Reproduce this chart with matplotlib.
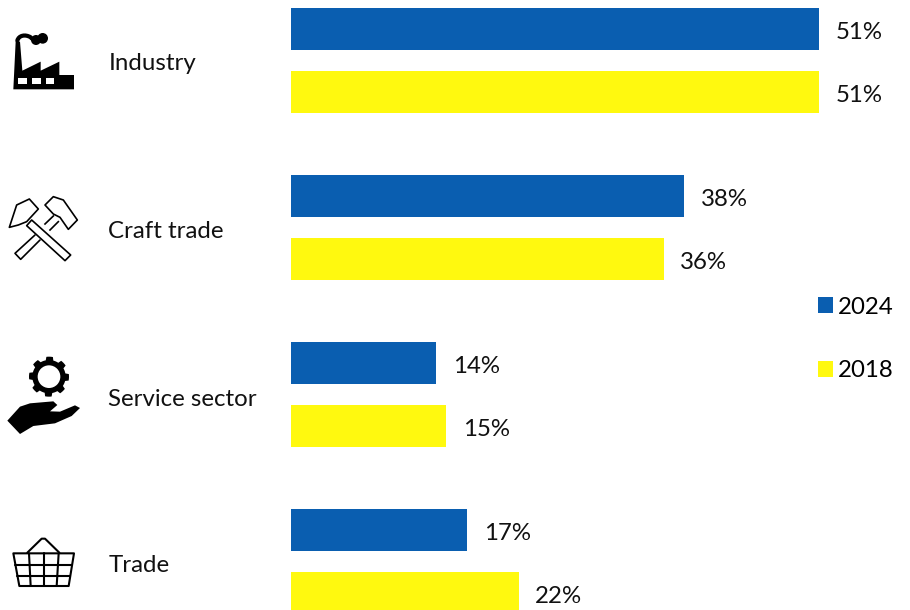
import matplotlib
matplotlib.use("Agg")
import matplotlib.pyplot as plt
import numpy as np
from matplotlib.patches import Circle, PathPatch, Polygon
from matplotlib.path import Path

plt.rcParams['font.family'] = ['Lato', 'DejaVu Sans']

categories = ['Industry', 'Craft trade', 'Service sector', 'Trade']
values_2024 = [51, 38, 14, 17]
values_2018 = [51, 36, 15, 22]
BLUE = '#0A5EB0'
YELLOW = '#FFF90F'
FS = 17.3

W, H = 910, 610
fig = plt.figure(figsize=(W / 100, H / 100), dpi=100)

# bars: 10.35 px per percent, 167 px between groups
ax = fig.add_axes([291 / W, 0, (W - 291) / W, 1])
ax.set_xlim(0, (W - 291) / 10.35)
ax.set_ylim((610 - 60.8) / 167, -60.8 / 167)
ax.axis('off')

y = np.arange(len(categories))
off = 31.5 / 167
bar_h = 42 / 167
b1 = ax.barh(y - off, values_2024, bar_h, color=BLUE, label='2024')
b2 = ax.barh(y + off, values_2018, bar_h, color=YELLOW, label='2018')
for rects, vals in ((b1, values_2024), (b2, values_2018)):
    for r, v in zip(rects, vals):
        ax.annotate(f'{v}%', (v, r.get_y() + r.get_height() / 2), xytext=(12, -2),
                    textcoords='offset points', va='center', ha='left', fontsize=FS, color='#111111')

fig.legend(handles=[b1, b2], loc='upper left', bbox_to_anchor=(796 / W, 1 - 275 / H), frameon=False,
           fontsize=FS, handlelength=0.66, handleheight=0.66, handletextpad=0.2, labelspacing=1.78)

# overlay in pixels for the labels and icons
ov = fig.add_axes([0, 0, 1, 1], facecolor='none')
ov.set_xlim(0, W)
ov.set_ylim(H, 0)
ov.axis('off')

label_y = [64, 231, 399, 565]
for name, ly in zip(categories, label_y):
    ov.text(108.5, ly, name, va='center', ha='left', fontsize=FS, color='#111111')


def pts(coords, oy):
    return [(cx / 3, oy + cy / 3) for cx, cy in coords]


def fill(coords, oy, color='black', z=3):
    ov.add_patch(Polygon(pts(coords, oy), closed=True, fc=color, ec='none', zorder=z))


def outline(coords, oy, closed=True, lw=1.2):
    ov.add_patch(Polygon(pts(coords, oy), closed=closed, fc='none', ec='black', lw=lw,
                         joinstyle='round', capstyle='round', zorder=3))


# factory
fill([(40, 208), (47, 65), (60, 65), (67, 152), (122, 125), (122, 152), (178, 125), (178, 165),
      (222, 165), (222, 208)], 20)
for wx in (55, 97, 138):
    fill([(wx, 175), (wx + 25, 175), (wx + 25, 193), (wx, 193)], 20, 'white', 4)
smoke = Path(pts([(52, 62), (56, 46), (76, 42), (92, 52), (104, 66), (122, 64), (134, 52)], 20),
             [Path.MOVETO, Path.CURVE4, Path.CURVE4, Path.CURVE4, Path.CURVE4, Path.CURVE4, Path.CURVE4])
ov.add_patch(PathPatch(smoke, fc='none', ec='black', lw=3.0, capstyle='round', zorder=3))
ov.add_patch(Circle((128 / 3, 20 + 55 / 3), 16 / 3, fc='black', ec='none', zorder=3))
ov.add_patch(Circle((108 / 3, 20 + 60 / 3), 15 / 3, fc='black', ec='none', zorder=3))

# crossed hammers
outline([(95, 600), (212, 705), (195, 722), (80, 617)], 20)
outline([(28, 622), (50, 555), (88, 537), (115, 567), (80, 605), (55, 615)], 20)
outline([(135, 555), (160, 530), (190, 540), (232, 600), (205, 628), (180, 592), (160, 582)], 20)
outline([(105, 645), (45, 700), (62, 718), (120, 660)], 20, closed=False)
ov.plot(*zip(*pts([(160, 588), (135, 612)], 20)), color='black', lw=1.2)
ov.plot(*zip(*pts([(175, 605), (150, 630)], 20)), color='black', lw=1.2)

# gear over hand
ang = np.linspace(0, 2 * np.pi, 97)[:-1]
rad = 60 - 10 * (np.cos(8 * ang) < 0)
fill(np.column_stack((147 + rad * np.cos(ang), 110 + rad * np.sin(ang))), 340)
ov.add_patch(Circle((147 / 3, 340 + 110 / 3), 34 / 3, fc='white', ec='none', zorder=4))
fill([(22, 242), (60, 200), (90, 190), (160, 184), (172, 195), (150, 214), (180, 215), (225, 196),
      (240, 204), (215, 228), (165, 250), (100, 258), (60, 282)], 340)

# basket
outline([(40, 640), (222, 640), (206, 738), (58, 738)], 340, lw=1.5)
outline([(82, 638), (125, 596), (135, 596), (178, 638)], 340, closed=False, lw=1.5)
outline([(46, 675), (216, 675)], 340, closed=False, lw=1.5)
outline([(52, 707), (211, 707)], 340, closed=False, lw=1.5)
for top, bot in ((87, 92), (132, 132), (176, 170)):
    outline([(top, 640), (bot, 738)], 340, closed=False, lw=1.5)

fig.savefig('out.png', dpi=100)
